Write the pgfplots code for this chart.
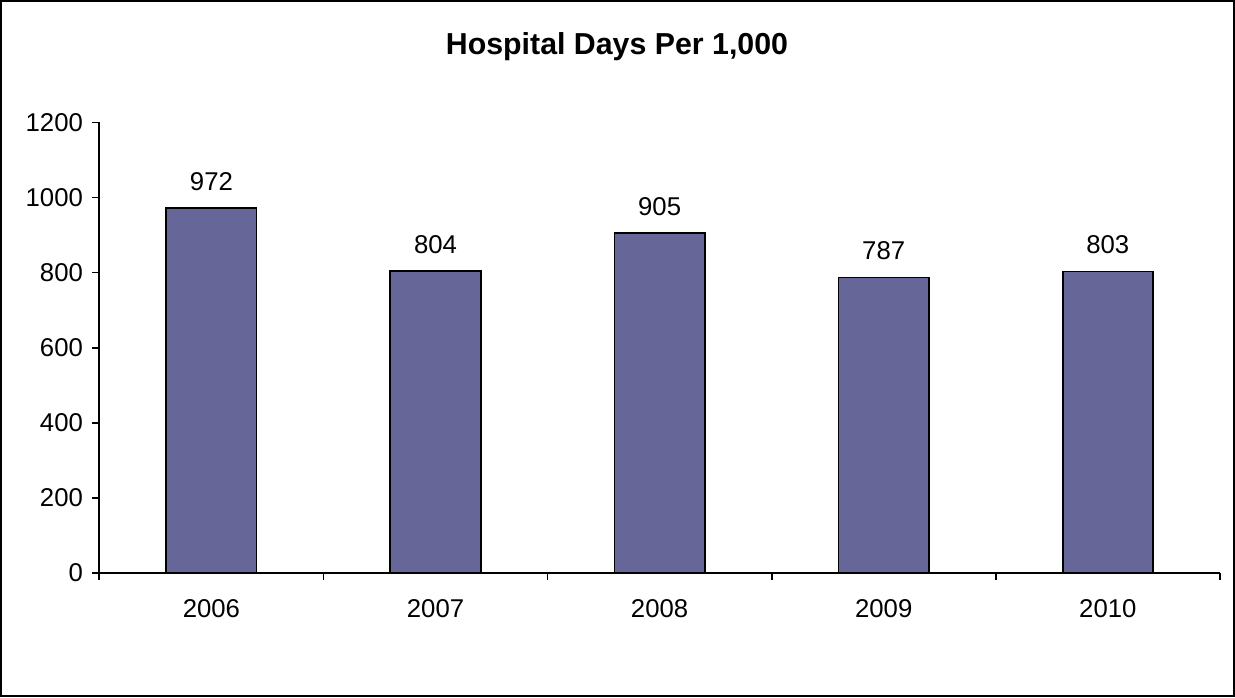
\documentclass[border=0pt]{standalone}
\usepackage{pgfplots}
\pgfplotsset{compat=1.18}
\usepackage{fontspec}
\setmainfont{Liberation Sans}
\definecolor{barblue}{RGB}{102,102,153}

\begin{document}
\begin{tikzpicture}
  \draw[black, line width=0.6pt] (0.03,0.03) rectangle (12.32,6.96);
  \node[font=\bfseries\fontsize{8.6}{10}\selectfont] at (6.17,6.51) {Hospital Days Per 1,000};
  \begin{axis}[
    at={(1.01cm,1.26cm)}, anchor=origin,
    scale only axis, width=11.17cm, height=4.49cm,
    xmin=0.5, xmax=5.5, ymin=0, ymax=1200,
    axis lines*=left,
    axis line style={black, line width=0.5pt},
    xtick={1,2,3,4,5},
    xticklabels={2006,2007,2008,2009,2010},
    minor xtick={0.5,1.5,2.5,3.5,4.5,5.5},
    ytick={0,200,...,1200},
    tick align=outside,
    major x tick style={draw=none},
    minor tick length=0.07cm,
    major tick length=0.07cm,
    tick style={black, line width=0.5pt},
    every tick label/.append style={font=\fontsize{7.3}{8}\selectfont},
    xticklabel style={yshift=-0.07cm},
    yticklabel style={xshift=0.03cm},
    /pgf/number format/assume math mode=true,
    /pgf/number format/1000 sep={},
    ybar, bar width=0.9cm,
    nodes near coords,
    every node near coord/.append style={font=\fontsize{7.3}{8}\selectfont, yshift=0.05cm},
  ]
    \addplot[fill=barblue, draw=black, line width=0.5pt] coordinates {
      (1,972) (2,804) (3,905) (4,787) (5,803)
    };
  \end{axis}
\end{tikzpicture}
\end{document}
